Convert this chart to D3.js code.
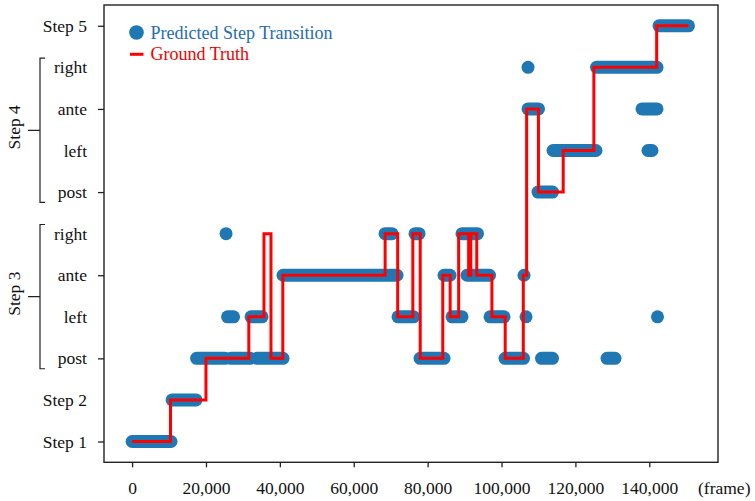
<!DOCTYPE html>
<html>
<head>
<meta charset="utf-8">
<script src="https://cdn.jsdelivr.net/npm/d3@7"></script>
<style>
  html, body { margin: 0; padding: 0; background: #fff; }
  svg { display: block; font-family: "Liberation Serif", "Times New Roman", serif; }
</style>
</head>
<body>
<svg id="chart" width="755" height="501"></svg>
<script>
// ---- data ----
const levelLabels = ["Step 1", "Step 2", "post", "left", "ante", "right", "post", "left", "ante", "right", "Step 5"];
const groupNames = ["Step 3", "Step 4"];
const groupFrom = [2, 6];
const groupTo = [5, 9];
const xTicks = [0, 20000, 40000, 60000, 80000, 100000, 120000, 140000];
const xUnit = "(frame)";

// ground truth: frame where a step begins, and the level held from there
const gtFrames = [0, 10400, 20000, 31600, 35700, 37600, 40800, 68500, 71900, 76000, 78000, 84100, 86100, 88400, 91100, 91700, 93300, 97400, 101000, 105900, 106800, 110000, 116700, 125000, 142000, 150600];
const gtLevels = [0, 1, 2, 3, 5, 2, 4, 5, 3, 5, 2, 4, 3, 5, 4, 5, 4, 3, 2, 4, 8, 6, 7, 9, 10, 10];

// predicted step transitions: runs of predicted points [level, first frame, last frame]
const predSegments = [
  [0, 0, 10550],
  [1, 10830, 17320],
  [2, 17460, 25170], [2, 26790, 31940], [2, 33830, 40860],
  [3, 25850, 27470], [3, 32210, 35180],
  [5, 25440, 25440],
  [4, 40860, 71720],
  [5, 68470, 70370],
  [3, 71990, 76190],
  [5, 76590, 77680],
  [2, 77950, 84440],
  [4, 84440, 86070],
  [3, 86610, 89310],
  [5, 89310, 93500],
  [4, 90660, 96760],
  [3, 96890, 100680],
  [2, 100950, 105960],
  [4, 106090, 106090],
  [3, 106630, 106630],
  [9, 107180, 107180],
  [8, 107180, 110020],
  [6, 109880, 113800],
  [2, 110830, 113800],
  [7, 113940, 125580],
  [9, 125720, 142090],
  [2, 128560, 130720],
  [8, 138020, 142090],
  [7, 139650, 140730],
  [3, 142220, 142220],
  [10, 142630, 150610]
];

const legendLabels = ["Predicted Step Transition", "Ground Truth"];
const blue = "#1f77b4";
const red = "#ff0000";

// ---- layout ----
const svg = d3.select("#chart");
const plot = { left: 104, right: 718, top: 5, bottom: 462.3 };

const x = d3.scaleLinear().domain([-7600, 158600]).range([plot.left, plot.right]);
const y = d3.scaleLinear().domain([-0.5, 10.5]).range([plot.bottom, plot.top]);

// predicted points (runs drawn as round-capped strokes)
svg.append("g")
  .selectAll("line")
  .data(predSegments)
  .join("line")
  .attr("x1", d => x(d[1]))
  .attr("x2", d => x(d[2]))
  .attr("y1", d => y(d[0]))
  .attr("y2", d => y(d[0]))
  .attr("stroke", blue)
  .attr("stroke-width", 13)
  .attr("stroke-linecap", "round");

// ground truth step line
const gt = gtFrames.map((f, i) => [f, gtLevels[i]]);
svg.append("path")
  .datum(gt)
  .attr("fill", "none")
  .attr("stroke", red)
  .attr("stroke-width", 3)
  .attr("d", d3.line().x(d => x(d[0])).y(d => y(d[1])).curve(d3.curveStepAfter));

// frame
svg.append("rect")
  .attr("x", plot.left).attr("y", plot.top)
  .attr("width", plot.right - plot.left).attr("height", plot.bottom - plot.top)
  .attr("fill", "none").attr("stroke", "#222").attr("stroke-width", 1.4);

// x axis
const xAxis = svg.append("g")
  .attr("transform", `translate(0,${plot.bottom})`)
  .call(d3.axisBottom(x).tickValues(xTicks).tickFormat(d3.format(",")).tickSize(5).tickSizeOuter(0).tickPadding(14));
xAxis.select(".domain").remove();
xAxis.selectAll(".tick line").attr("stroke", "#222").attr("stroke-width", 1.3);
xAxis.selectAll(".tick text").attr("font-size", "17.5px").attr("fill", "#111")
  .attr("font-family", "Liberation Serif, Times New Roman, serif");

svg.append("text")
  .attr("x", 698).attr("y", 494)
  .attr("font-size", "17.5px").attr("fill", "#111")
  .text(xUnit);

// y axis
const levels = d3.range(levelLabels.length);
const yAxis = svg.append("g")
  .attr("transform", `translate(${plot.left},0)`)
  .call(d3.axisLeft(y).tickValues(levels).tickFormat(i => levelLabels[i]).tickSize(6).tickSizeOuter(0).tickPadding(11));
yAxis.select(".domain").remove();
yAxis.selectAll(".tick line").attr("stroke", "#222").attr("stroke-width", 1.3)
  .attr("display", d => d % 2 === 0 ? null : "none");
yAxis.selectAll(".tick text").attr("font-size", "17.5px").attr("fill", "#111")
  .attr("font-family", "Liberation Serif, Times New Roman, serif");

// group brackets
groupNames.forEach((name, i) => {
  const yTop = y(groupTo[i] + 0.22);
  const yBot = y(groupFrom[i] - 0.25);
  const yMid = (yTop + yBot) / 2;
  const bx = 40;
  svg.append("path")
    .attr("d", `M${bx + 5},${yTop}H${bx}V${yBot}H${bx + 5}M${bx},${yMid}H${bx - 12}`)
    .attr("fill", "none").attr("stroke", "#222").attr("stroke-width", 1.2);
  svg.append("text")
    .attr("transform", `translate(20,${yMid - 3}) rotate(-90)`)
    .attr("text-anchor", "middle")
    .attr("font-size", "17.5px").attr("fill", "#111")
    .text(name);
});

// legend
const lg = svg.append("g");
lg.append("circle").attr("cx", 136.5).attr("cy", 32.5).attr("r", 7.3).attr("fill", blue);
lg.append("text").attr("x", 150.5).attr("y", 32.5).attr("dy", "0.34em")
  .attr("font-size", "18px").attr("fill", "#1f6db2").text(legendLabels[0]);
lg.append("line").attr("x1", 130).attr("x2", 143.5).attr("y1", 54.3).attr("y2", 54.3)
  .attr("stroke", red).attr("stroke-width", 3);
lg.append("text").attr("x", 150.5).attr("y", 54.3).attr("dy", "0.34em")
  .attr("font-size", "18px").attr("fill", "#f00000").text(legendLabels[1]);
</script>
</body>
</html>
